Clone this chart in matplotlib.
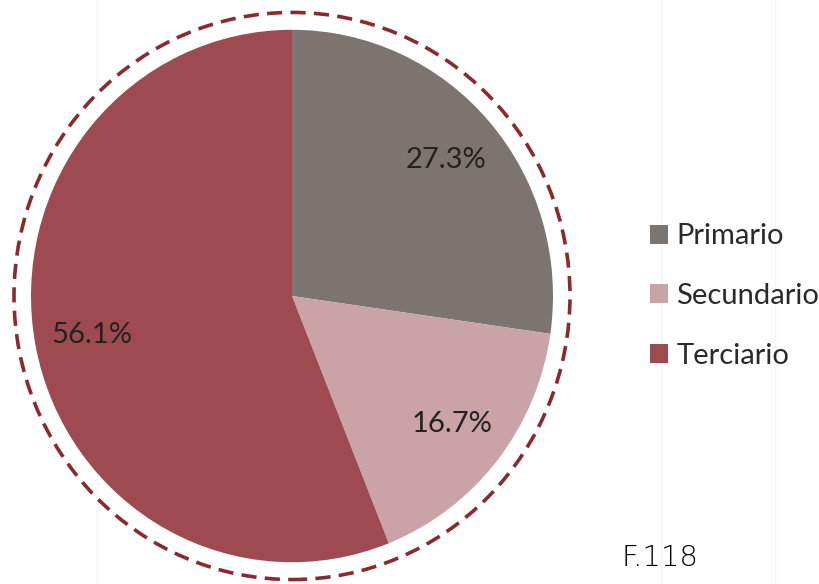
import matplotlib.pyplot as plt
from matplotlib.patches import Circle

categories = ['Primario', 'Secundario', 'Terciario']
values = [27.3, 16.7, 56.1]
colors = ['#7b7471', '#c9a3a6', '#9d4b50']

W, H = 820, 584
S = 1.02  # the source image is a touch taller than wide
CX, CY, R = 292, (H - 296) / S, 261

fig = plt.figure(figsize=(W / 100, H / 100), dpi=100)
ax = fig.add_axes([0, 0, 1, 1])

# faint background pattern
for x in [97, 661, 775]:
  ax.plot([x, x], [0, H], color='#f4f4f4', lw=1, zorder=0)

pct_labels = [f'{v}%' for v in values]
wedges, texts = ax.pie(values, colors=colors, labels=pct_labels, labeldistance=0.78,
                       startangle=90, counterclock=False, center=(CX, CY), radius=R,
                       wedgeprops=dict(linewidth=0),
                       textprops=dict(family='Lato', fontsize=21, color='#222222'))
for t in texts:
  t.set_ha('center')
  t.set_va('center')

ax.add_patch(Circle((CX, CY), 278, fill=False, ec='#8a2a2f', lw=2.6,
                    linestyle=(0, (4.2, 2.3)), zorder=3))

ax.set_xlim(0, W)
ax.set_ylim(0, H / S)
ax.set_aspect('auto')
ax.axis('off')

ax.legend(wedges, categories, loc='center left', bbox_to_anchor=(650 / W, 1 - 296 / H),
          frameon=False, borderpad=0, borderaxespad=0,
          handlelength=0.62, handleheight=0.62, handletextpad=0.28,
          labelspacing=1.15, prop=dict(family='Lato', size=21), labelcolor='#2a2a2a')

fig.text(622 / W, 1 - 558 / H, 'F.118', family='DejaVu Sans', weight='light',
         fontsize=21, color='#000000', ha='left', va='center')

fig.savefig('out.png', dpi=100)
